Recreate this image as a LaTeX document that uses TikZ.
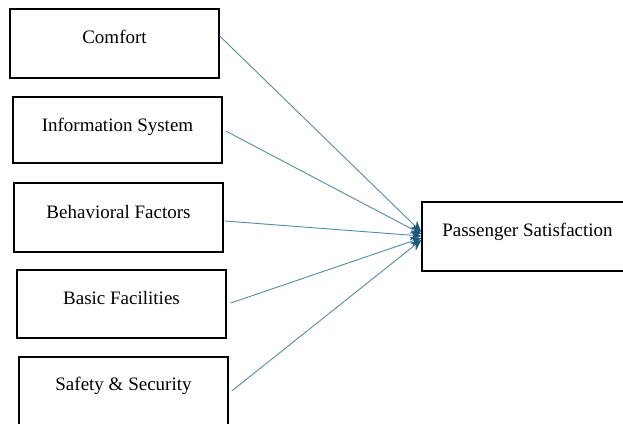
\documentclass[tikz,border=0pt]{standalone}
\usepackage{fontspec}
\setmainfont{Liberation Serif}
\usetikzlibrary{arrows.meta}
\definecolor{linecol}{RGB}{84,138,170}
\definecolor{headcol}{RGB}{26,90,124}
\begin{document}
\begin{tikzpicture}[x=1pt,y=-1pt,
  box/.style={draw=black,line width=1.4pt,rectangle,minimum width=209pt,inner sep=0pt,
    font=\fontsize{19}{22}\selectfont},
  link/.style={draw=linecol,line width=0.9pt,-{Stealth[length=11pt,width=10pt,color=headcol]}}]
\useasboundingbox (0,0) rectangle (623,423);
\clip (0,0) rectangle (623,423);
\fill[white] (0,0) rectangle (623,423);
\node[box,minimum height=69pt] (comfort) at (114.5,43.5) {\raisebox{14pt}{Comfort}};
\node[box,minimum height=66pt] (info) at (117.5,130) {\raisebox{10pt}{Information System}};
\node[box,minimum height=69pt] (behav) at (118.5,217.5) {\raisebox{11pt}{Behavioral Factors}};
\node[box,minimum height=68pt] (basic) at (121.5,304) {\raisebox{12pt}{Basic Facilities}};
\node[box,minimum height=69pt] (safety) at (123.5,391.5) {\raisebox{15pt}{Safety \& Security}};
\node[box,minimum width=206pt,minimum height=69pt] (pass) at (525,236.5) {\hspace{5pt}\raisebox{13pt}{Passenger Satisfaction}};
\draw[link] (comfort.east |- 0,36) -- (pass.west |- 0,232);
\draw[link] ([xshift=3pt]info.east |- 0,131) -- (pass.west |- 0,234);
\draw[link] ([xshift=1pt]behav.east |- 0,221) -- (pass.west |- 0,236);
\draw[link] ([xshift=4pt]basic.east |- 0,303) -- (pass.west |- 0,238);
\draw[link] ([xshift=3pt]safety.east |- 0,391) -- (pass.west |- 0,240);
\end{tikzpicture}
\end{document}
